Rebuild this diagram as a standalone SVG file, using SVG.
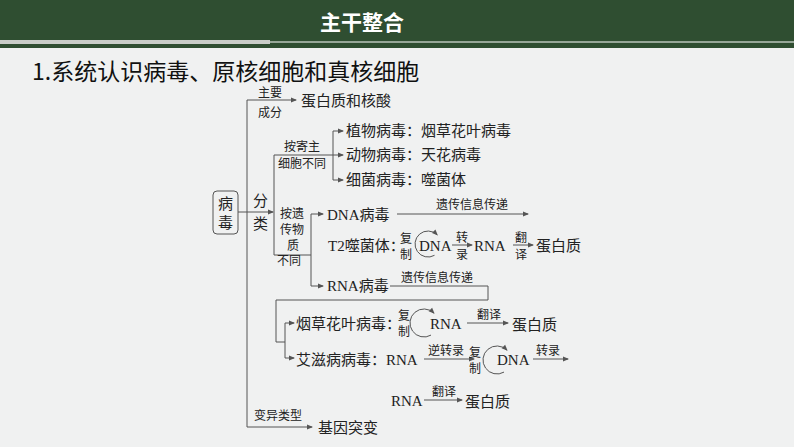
<svg xmlns="http://www.w3.org/2000/svg" width="794" height="447" viewBox="0 0 794 447">
<style>
.t{font-family:"Liberation Serif","Noto Sans CJK SC",serif;font-size:15px;fill:#222}
.s{font-family:"Liberation Serif","Noto Sans CJK SC",serif;font-size:12px;fill:#222}
.l{stroke:#555;stroke-width:1;fill:none}
.a{stroke:#555;stroke-width:1;fill:none;marker-end:url(#ar)}
</style>
<defs><marker id="ar" markerWidth="6" markerHeight="6" refX="5" refY="3" orient="auto" markerUnits="userSpaceOnUse"><path d="M0,0.5L6,3L0,5.5z" fill="#555"/></marker></defs>
<rect width="794" height="447" fill="#f0f1f1"/>
<rect width="794" height="48" fill="#2f4e31"/>
<rect x="0" y="40" width="270" height="4" fill="#c9cdc8"/>
<rect x="270" y="41.5" width="524" height="1" fill="#fff"/>
<text x="362" y="30" text-anchor="middle" style="font-family:'Noto Sans CJK SC',sans-serif;font-size:21px;font-weight:bold;fill:#fff">主干整合</text>
<text x="32" y="80" style="font-family:'Noto Sans CJK SC',sans-serif;font-size:23px;fill:#111">1.系统认识病毒、原核细胞和真核细胞</text>
<g id="root"><rect x="213" y="191" width="25" height="43" rx="4" fill="none" stroke="#555"/><text class="t" x="218" y="209">病</text><text class="t" x="218" y="228">毒</text></g>
<g id="connectors">
<path class="l" d="M247,100V427"/>
<path class="a" d="M247,100H296"/>
<path class="a" d="M238,212H273"/>
<path class="l" d="M274,155V255H311"/>
<path class="l" d="M274,155H333"/>
<path class="l" d="M333,131V180"/>
<path class="a" d="M333,131H343"/><path class="a" d="M333,155H343"/><path class="a" d="M333,180H343"/>
<path class="l" d="M311,214V286"/>
<path class="a" d="M311,214H323"/><path class="a" d="M311,286H323"/>
<path class="a" d="M397,214H528"/>
<path class="a" d="M452,245H472"/><path class="a" d="M513,245H533"/>
<path class="l" d="M390,286H488V300H276V342H285"/>
<path class="l" d="M285,323V358"/>
<path class="a" d="M285,323H294"/><path class="a" d="M285,358H294"/>
<path class="a" d="M467,323H508"/>
<path class="a" d="M424,359H474"/>
<path class="a" d="M533,359H568"/>
<path class="a" d="M424,400H462"/>
<path class="a" d="M247,427H312"/>
<path class="a" d="M434.5,255.3A13,13 0 1 1 437.2,234.8"/>
<path class="a" d="M431,335.1A14,14 0 1 1 433.9,313.1"/>
<path class="a" d="M504,372.1A14,14 0 1 1 506.9,350.1"/>
</g>
<g id="labels">
<text class="s" x="258" y="97">主要</text><text class="s" x="258" y="117">成分</text>
<text class="t" x="301" y="106">蛋白质和核酸</text>
<text class="t" x="253" y="206">分</text><text class="t" x="253" y="229">类</text>
<text class="s" x="284" y="151">按寄主</text><text class="s" x="278" y="168">细胞不同</text>
<text class="t" x="346" y="136">植物病毒：烟草花叶病毒</text>
<text class="t" x="346" y="160">动物病毒：天花病毒</text>
<text class="t" x="346" y="185">细菌病毒：噬菌体</text>
<text class="s" x="280" y="218">按遗</text><text class="s" x="280" y="234">传物</text><text class="s" x="287" y="250">质</text><text class="s" x="277" y="265">不同</text>
<text class="t" x="327" y="220">DNA病毒</text>
<text class="s" x="436" y="209">遗传信息传递</text>
<text class="t" x="328" y="251">T2噬菌体：</text>
<text class="s" x="400" y="243">复</text><text class="s" x="400" y="259">制</text>
<text class="t" x="419" y="251">DNA</text>
<text class="s" x="456" y="242">转</text><text class="s" x="456" y="259">录</text>
<text class="t" x="474" y="251">RNA</text>
<text class="s" x="515" y="242">翻</text><text class="s" x="515" y="259">译</text>
<text class="t" x="536" y="251">蛋白质</text>
<text class="t" x="327" y="291">RNA病毒</text>
<text class="s" x="401" y="282">遗传信息传递</text>
<text class="t" x="296" y="329">烟草花叶病毒：</text>
<text class="s" x="398" y="320">复</text><text class="s" x="398" y="336">制</text>
<text class="t" x="430" y="329">RNA</text>
<text class="s" x="477" y="319">翻译</text>
<text class="t" x="512" y="330">蛋白质</text>
<text class="t" x="296" y="365">艾滋病病毒：RNA</text>
<text class="s" x="428" y="355">逆转录</text>
<text class="s" x="469" y="357">复</text><text class="s" x="469" y="373">制</text>
<text class="t" x="497" y="365">DNA</text>
<text class="s" x="536" y="355">转录</text>
<text class="t" x="391" y="406">RNA</text>
<text class="s" x="432" y="396">翻译</text>
<text class="t" x="465" y="407">蛋白质</text>
<text class="s" x="254" y="420">变异类型</text>
<text class="t" x="318" y="433">基因突变</text>
</g>
</svg>
